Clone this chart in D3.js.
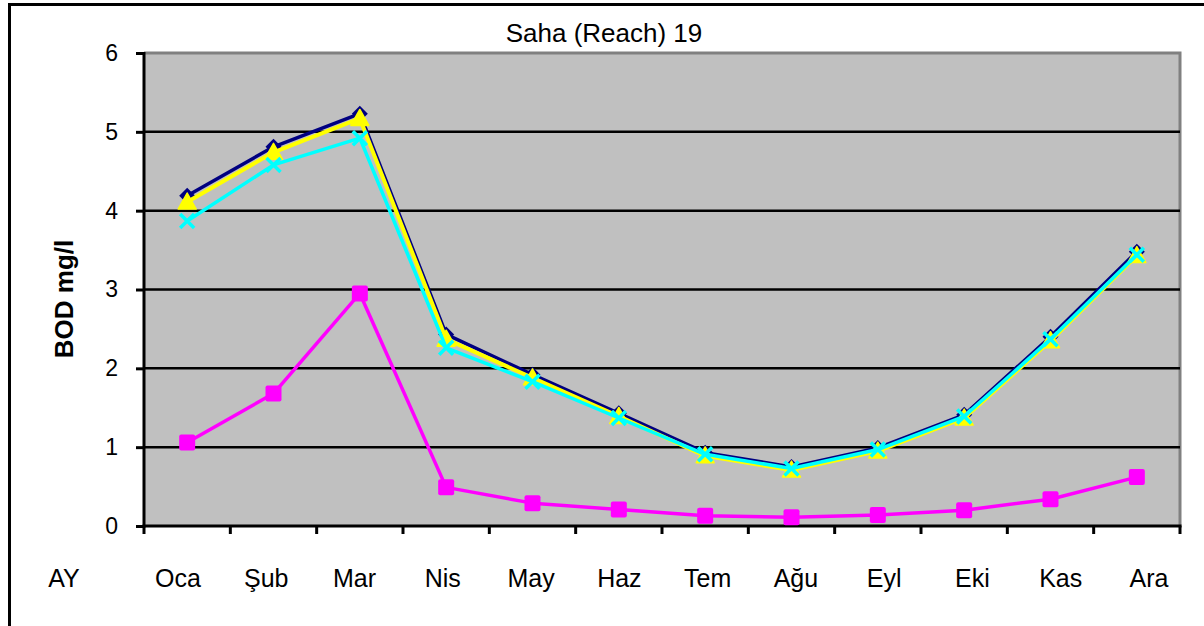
<!DOCTYPE html>
<html>
<head>
<meta charset="utf-8">
<script src="https://cdn.jsdelivr.net/npm/d3@7"></script>
<style>
  body { margin: 0; background: #fff; }
  svg { display: block; font-family: "Liberation Sans", Arial, sans-serif; }
</style>
</head>
<body>
<div id="chart"></div>
<script>
// Months (Turkish) and BOD values
const months = ["Oca", "Şub", "Mar", "Nis", "May", "Haz", "Tem", "Ağu", "Eyl", "Eki", "Kas", "Ara"];
const yTicks = [0, 1, 2, 3, 4, 5, 6];

const navyValues = [4.19, 4.81, 5.23, 2.43, 1.92, 1.43, 0.93, 0.75, 0.99, 1.41, 2.40, 3.48];
const magentaValues = [1.06, 1.68, 2.95, 0.49, 0.29, 0.21, 0.13, 0.11, 0.14, 0.20, 0.34, 0.62];
const yellowValues = [4.11, 4.74, 5.17, 2.37, 1.88, 1.39, 0.89, 0.71, 0.95, 1.37, 2.35, 3.43];
const cyanValues = [3.87, 4.58, 4.92, 2.26, 1.83, 1.37, 0.91, 0.73, 0.97, 1.39, 2.37, 3.44];

const width = 1204;
const height = 626;
const plotLeft = 144, plotRight = 1180, plotTop = 53, plotBottom = 526;

const svg = d3.select("#chart").append("svg")
  .attr("width", width)
  .attr("height", height);

// Outer chart border (runs past the right/bottom edge)
svg.append("rect")
  .attr("x", 9.5).attr("y", 4.5)
  .attr("width", 1300).attr("height", 700)
  .attr("fill", "none").attr("stroke", "#000").attr("stroke-width", 3);

const x = d3.scaleBand().domain(months).range([plotLeft, plotRight]);
const y = d3.scaleLinear().domain([0, 6]).range([plotBottom, plotTop]);
// the month labels sit in a slightly wider row than the plot bands
const xLabel = d3.scalePoint().domain(months).range([178, 1149]);

// Plot area
svg.append("rect")
  .attr("x", plotLeft).attr("y", plotTop)
  .attr("width", plotRight - plotLeft).attr("height", plotBottom - plotTop)
  .attr("fill", "#c0c0c0");

// Grey frame on top and right
svg.append("path")
  .attr("d", `M${plotLeft},${plotTop}H${plotRight}V${plotBottom}`)
  .attr("fill", "none").attr("stroke", "#808080").attr("stroke-width", 3);

// Gridlines
svg.append("g").selectAll("line")
  .data(yTicks.filter(d => d > 0 && d < 6))
  .join("line")
  .attr("x1", plotLeft).attr("x2", plotRight)
  .attr("y1", d => y(d)).attr("y2", d => y(d))
  .attr("stroke", "#000").attr("stroke-width", 2.5);

// Y axis
const yAxis = svg.append("g")
  .attr("transform", `translate(${plotLeft},0)`)
  .call(d3.axisLeft(y).tickValues(yTicks).tickFormat(d3.format("d")).tickSize(8).tickPadding(18));
yAxis.select(".domain").attr("stroke-width", 3).attr("d", `M0,${plotTop - 1}V${plotBottom + 1.5}`);
yAxis.selectAll(".tick line").attr("stroke-width", 3);
yAxis.selectAll("text").attr("font-size", 23).attr("fill", "#000")
  .attr("font-family", "'Liberation Sans', Arial, sans-serif");

// X axis: ticks at band boundaries
const bounds = months.map(m => x(m)).concat([plotRight]);
svg.append("line")
  .attr("x1", plotLeft - 1.5).attr("x2", plotRight + 1.5)
  .attr("y1", plotBottom).attr("y2", plotBottom)
  .attr("stroke", "#000").attr("stroke-width", 3);
svg.append("g").selectAll("line")
  .data(bounds)
  .join("line")
  .attr("x1", d => d).attr("x2", d => d)
  .attr("y1", plotBottom).attr("y2", plotBottom + 8)
  .attr("stroke", "#000").attr("stroke-width", 3);
svg.append("g").selectAll("text")
  .data(months)
  .join("text")
  .attr("x", d => xLabel(d))
  .attr("y", 587)
  .attr("text-anchor", "middle")
  .attr("font-size", 25)
  .text(d => d);

svg.append("text")
  .attr("x", 64).attr("y", 587)
  .attr("text-anchor", "middle")
  .attr("font-size", 25)
  .text("AY");

// Title
svg.append("text")
  .attr("x", 604).attr("y", 42)
  .attr("text-anchor", "middle")
  .attr("font-size", 26)
  .text("Saha (Reach) 19");

// Y label
svg.append("text")
  .attr("transform", "translate(73,299) rotate(-90)")
  .attr("text-anchor", "middle")
  .attr("font-size", 26)
  .attr("font-weight", "bold")
  .text("BOD mg/l");

const cx = (d, i) => x(months[i]) + x.bandwidth() / 2;
const line = d3.line().x((d, i) => cx(d, i)).y(d => y(d));

const series = [
  { values: navyValues, color: "#000080", width: 3.5, marker: "diamond" },
  { values: magentaValues, color: "#ff00ff", width: 3.5, marker: "square" },
  { values: yellowValues, color: "#ffff00", width: 4, marker: "triangle" },
  { values: cyanValues, color: "#00ffff", width: 3.5, marker: "cross" }
];

series.forEach(s => {
  const g = svg.append("g");
  g.append("path")
    .attr("d", line(s.values))
    .attr("fill", "none")
    .attr("stroke", s.color)
    .attr("stroke-width", s.width)
    .attr("stroke-linejoin", "round");

  const pts = g.selectAll(".m").data(s.values).join("g")
    .attr("transform", (d, i) => `translate(${cx(d, i)},${y(d)})`);

  if (s.marker === "diamond") {
    pts.append("path").attr("d", "M0,-8L8,0L0,8L-8,0Z").attr("fill", s.color);
  } else if (s.marker === "square") {
    pts.append("rect").attr("x", -8).attr("y", -8).attr("width", 16).attr("height", 16)
      .attr("rx", 2).attr("fill", s.color);
  } else if (s.marker === "triangle") {
    pts.append("path").attr("d", "M0,-9L9,7L-9,7Z").attr("fill", s.color)
      .attr("stroke", s.color).attr("stroke-width", 1.5).attr("stroke-linejoin", "round");
  } else {
    pts.append("path").attr("d", "M-7,-7L7,7M-7,7L7,-7")
      .attr("stroke", s.color).attr("stroke-width", 3.5);
  }
});
</script>
</body>
</html>
